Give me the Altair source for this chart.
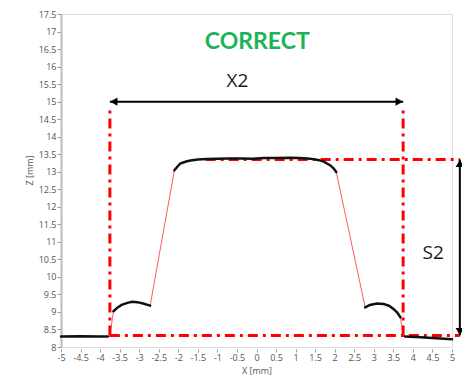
import altair as alt
import pandas as pd

# Measured profile (X [mm], Z [mm]); seg = black measured segment id (0 = connector only)
prof_x = [-5.0, -4.5, -4.0, -3.8, -3.75, -3.66, -3.55, -3.45, -3.3, -3.18, -3.05, -2.9, -2.72,
          -2.10, -2.02, -1.95, -1.8, -1.69, -1.5, -1.27, -1.0, -0.7, -0.41, -0.1, 0.2, 0.5, 0.86,
          1.1, 1.3, 1.46, 1.6, 1.72, 1.89, 1.97, 2.04,
          2.78, 2.9, 3.08, 3.25, 3.4, 3.51, 3.6, 3.68, 3.75, 3.8, 4.2, 4.6, 5.0]
prof_z = [8.30, 8.31, 8.30, 8.30, 8.30, 9.02, 9.13, 9.20, 9.26, 9.29, 9.28, 9.24, 9.18,
          13.04, 13.15, 13.23, 13.29, 13.32, 13.35, 13.36, 13.37, 13.38, 13.38, 13.37, 13.39, 13.39, 13.40,
          13.39, 13.38, 13.36, 13.33, 13.29, 13.18, 13.10, 12.99,
          9.13, 9.20, 9.24, 9.23, 9.17, 9.08, 8.98, 8.85, 8.33, 8.30, 8.28, 8.25, 8.22]
prof_seg = [1, 1, 1, 1, 0, 2, 2, 2, 2, 2, 2, 2, 2,
            3, 3, 3, 3, 3, 3, 3, 3, 3, 3, 3, 3, 3, 3,
            3, 3, 3, 3, 3, 3, 3, 3,
            4, 4, 4, 4, 4, 4, 4, 4, 0, 5, 5, 5, 5]

# Reference (dash-dot) lines
ref_x1 = [-3.75, 3.75, -1.3, -3.75]
ref_x2 = [-3.75, 3.75, 5.2, 5.2]
ref_z1 = [8.33, 8.33, 13.35, 8.33]
ref_z2 = [14.85, 14.85, 13.35, 8.33]

# Dimension arrows
x2_left, x2_right, x2_z = -3.75, 3.75, 15.0
s2_x, s2_bottom, s2_top = 5.2, 8.33, 13.35

x_ticks = [round(-5 + 0.5 * i, 1) for i in range(21)]
y_ticks = [round(8 + 0.5 * i, 1) for i in range(20)]

prof = pd.DataFrame({"X": prof_x, "Z": prof_z, "seg": prof_seg})
refs = pd.DataFrame({"x1": ref_x1, "x2": ref_x2, "z1": ref_z1, "z2": ref_z2})

xs = alt.Scale(domain=[-5, 5], nice=False, zero=False)
ys = alt.Scale(domain=[8, 17.5], nice=False, zero=False)

FONT = "Open Sans"

xaxis = alt.Axis(values=x_ticks, title="X [mm]", domain=False, grid=False,
                 labelFont=FONT, labelFontSize=9, labelColor="#555", tickColor="#999",
                 tickSize=3, offset=2, labelPadding=1, titleFont=FONT, titleFontSize=9,
                 titleFontWeight="normal", titleColor="#555", titlePadding=4,
                 labelOverlap=False, labelFlush=False, labelExpr="datum.value + ''")
yaxis = alt.Axis(values=y_ticks, title="Z [mm]", grid=False, domainColor="#bbb", domainWidth=2,
                 labelFont=FONT, labelFontSize=9, labelColor="#555", tickColor="#999",
                 tickSize=4, labelPadding=1, titleFont=FONT, titleFontSize=9,
                 titleFontWeight="normal", titleColor="#555", titleX=-32, titleY=156,
                 titleBaseline="middle", titleAlign="center",
                 labelOverlap=False, labelFlush=False, labelExpr="datum.value + ''")


def X(field):
    return alt.X(field, scale=xs, axis=xaxis, title="X [mm]")


def Y(field):
    return alt.Y(field, scale=ys, axis=yaxis, title="Z [mm]")


base = alt.Chart(prof)

red_line = base.mark_line(color="#ff5a5a", strokeWidth=1).encode(
    x=X("X:Q"), y=Y("Z:Q"), order="X:Q")

black_line = base.transform_filter("datum.seg > 0").mark_line(
    color="#111", strokeWidth=2.5, strokeCap="round").encode(
    x=X("X:Q"), y=Y("Z:Q"), detail="seg:N", order="X:Q")

ref_lines = alt.Chart(refs).mark_rule(
    color="#ff0000", strokeWidth=3, strokeDash=[10, 5, 3, 5]).encode(
    x=X("x1:Q"), x2="x2:Q", y=Y("z1:Q"), y2="z2:Q")

arr_h = alt.Chart(pd.DataFrame({"a": [x2_left], "b": [x2_right], "z": [x2_z]})).mark_rule(
    color="#000", strokeWidth=2).encode(x=X("a:Q"), x2="b:Q", y=Y("z:Q"))
arr_v = alt.Chart(pd.DataFrame({"x": [s2_x], "a": [s2_bottom], "b": [s2_top]})).mark_rule(
    color="#000", strokeWidth=2).encode(x=X("x:Q"), y=Y("a:Q"), y2="b:Q")

heads = pd.DataFrame({
    "x": [x2_left + 0.1, x2_right - 0.1, s2_x, s2_x],
    "z": [x2_z, x2_z, s2_top - 0.11, s2_bottom + 0.11],
    "shape": ["triangle-left", "triangle-right", "triangle-up", "triangle-down"],
})
arrow_heads = alt.Chart(heads).mark_point(filled=True, color="#000", opacity=1, size=70).encode(
    x=X("x:Q"), y=Y("z:Q"), shape=alt.Shape("shape:N", scale=None))

labels = pd.DataFrame({
    "x": [0.02, -0.49, 4.52],
    "z": [16.71, 15.58, 10.69],
    "t": ["CORRECT", "X2", "S2"],
})
title_txt = alt.Chart(labels.iloc[[0]]).mark_text(
    font="Lato", fontSize=23, fontWeight="bold", color="#1db35a", baseline="middle").encode(
    x=X("x:Q"), y=Y("z:Q"), text="t:N")
dim_txt = alt.Chart(labels.iloc[1:]).mark_text(
    font=FONT, fontSize=19, color="#1a1a1a", baseline="middle").encode(
    x=X("x:Q"), y=Y("z:Q"), text="t:N")

chart = alt.layer(red_line, ref_lines, black_line, arr_h, arr_v, arrow_heads, title_txt, dim_txt).properties(
    width=391, height=333,
    autosize=alt.AutoSizeParams(type="none"),
    padding={"left": 53, "top": 6, "right": 10, "bottom": 31},
).configure_view(stroke=None).configure(background="white")

chart.save("out.html", embed_options={"renderer": "svg", "actions": False})
